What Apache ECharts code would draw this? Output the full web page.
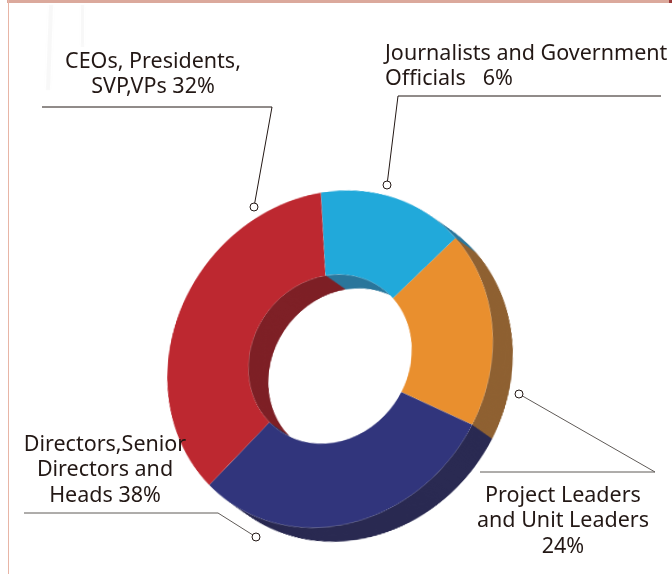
<!DOCTYPE html>
<html>
<head>
<meta charset="utf-8">
<style>
html,body{margin:0;padding:0;background:#fff}
#wrap{position:relative;width:672px;height:574px;overflow:hidden}
#ring,#notes{position:absolute;left:0;top:0;width:672px;height:574px}
/* The printed ring is a tilted ellipse: stretch the round pie along its long diagonal */
#ring{transform-origin:330px 359px;transform:rotate(-54deg) scale(1.0574,0.9426) rotate(54deg)}
</style>
<script src="https://cdn.jsdelivr.net/npm/echarts@6/dist/echarts.min.js"></script>
</head>
<body>
<div id="wrap"><div id="ring"></div><div id="notes"></div></div>
<script>
// Slice order, clockwise from just left of the top of the ring
const categories = ['Journalists and Government Officials', 'Project Leaders and Unit Leaders', 'Directors, Senior Directors and Heads', 'CEOs, Presidents, SVP, VPs'];
// Share of the ring each slice occupies in the picture (differs from its printed label)
const sliceShares = [14.9, 19.1, 30.2, 35.8];
const printedPercents = ['6%', '24%', '38%', '32%'];
const faceColors = ['#21a9da', '#e98f2e', '#31357c', '#bd2830'];
const sideColors = ['#2b779c', '#8f6132', '#2a2a52', '#7e2026'];

const ink = '#231815';
const grey = '#5f5a57';
const font = '"Noto Sans", sans-serif';
const pieData = colors => categories.map((name, i) => ({name, value: sliceShares[i], itemStyle: {color: colors[i]}}));

function label(x, y, text, align) {
  return {type: 'text', z: 10, x, y, style: {text, fill: ink, font: '21.5px ' + font, align: align || 'center', verticalAlign: 'top', lineHeight: 25.5}};
}
function leader(points, dot, color) {
  return [
    {type: 'polyline', z: 9, shape: {points}, style: {stroke: color || ink, lineWidth: 1, fill: null}},
    {type: 'circle', z: 9, shape: {cx: dot[0], cy: dot[1], r: 4}, style: {fill: '#fff', stroke: ink, lineWidth: 1}}
  ];
}
function pie(cx, cy, colors, z, extra) {
  return Object.assign({type: 'pie', silent: true, z, center: [cx, cy], radius: [83, 165.5], startAngle: 96.4, clockwise: true,
    label: {show: false}, labelLine: {show: false}, data: pieData(colors)}, extra);
}

// Extruded side of the ring: the same pie repeated from the far offset up to the face
const depthSteps = 28;
const sideLayers = [];
for (let k = depthSteps; k >= 1; k--) {
  sideLayers.push(pie(330 + 21.2 * k / depthSteps, 359 + 14.9 * k / depthSteps, sideColors, depthSteps - k + 1));
}

const ring = echarts.init(document.getElementById('ring'), null, {renderer: 'canvas', devicePixelRatio: 2});
ring.setOption({
  animation: false,
  series: [
    ...sideLayers,
    pie(330, 359, faceColors, depthSteps + 2, {itemStyle: {borderColor: 'rgba(255,255,255,0.4)', borderWidth: 0.5}})
  ]
});

const notes = echarts.init(document.getElementById('notes'), null, {renderer: 'canvas'});
notes.setOption({
  animation: false,
  graphic: [
    {type: 'rect', shape: {x: 7, y: 0, width: 665, height: 3}, style: {fill: '#dba99c'}},
    {type: 'rect', shape: {x: 669, y: 0, width: 3, height: 3}, style: {fill: '#9c3a3a'}},
    {type: 'rect', shape: {x: 8, y: 0, width: 1, height: 574}, style: {fill: '#e8b5a6'}},
    {type: 'polygon', shape: {points: [[49, 5], [53, 5], [50, 90], [46, 90]]}, style: {fill: 'rgba(150,150,150,0.06)', shadowBlur: 5, shadowColor: 'rgba(150,150,150,0.3)'}},
    {type: 'rect', shape: {x: 81, y: 5, width: 3, height: 42}, style: {fill: 'rgba(150,150,150,0.06)', shadowBlur: 5, shadowColor: 'rgba(150,150,150,0.3)'}},
    ...leader([[42, 107], [272, 107], [254, 207]], [254, 207]),
    ...leader([[661, 96], [398, 96], [387, 185]], [387, 185]),
    ...leader([[480, 472], [655, 472], [519, 394]], [519, 394], grey),
    ...leader([[24, 513], [218, 513], [256, 537]], [256, 537], grey),
    label(153, 49, 'CEOs, Presidents,\nSVP,VPs 32%'),
    label(385, 41, 'Journalists and Government\nOfficials   6%', 'left'),
    label(105, 432, 'Directors,Senior\nDirectors and\nHeads 38%'),
    label(563, 483, 'Project Leaders\nand Unit Leaders\n24%')
  ]
});
</script>
</body>
</html>
